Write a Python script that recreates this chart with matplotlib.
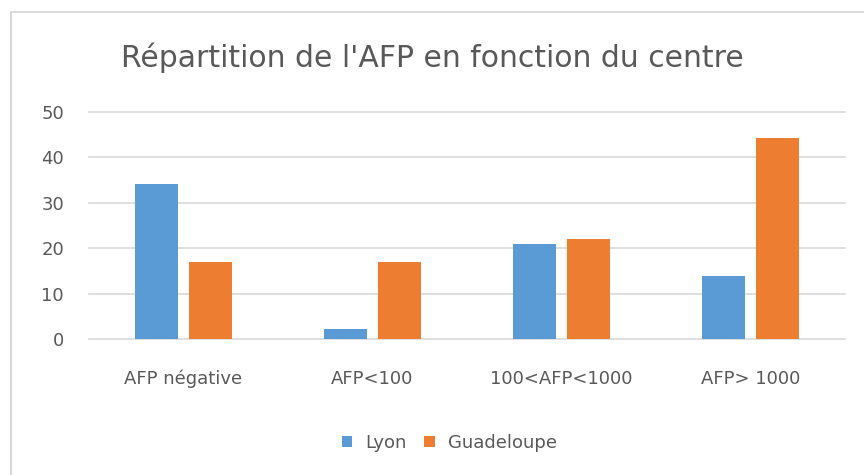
import numpy as np
import matplotlib
matplotlib.use('Agg')
import matplotlib.pyplot as plt
from matplotlib.lines import Line2D

plt.rcParams['font.family'] = ['DejaVu Sans']

categories = ['AFP négative', 'AFP<100', '100<AFP<1000', 'AFP> 1000']
lyon = [34, 2.3, 20.8, 13.8]
guadeloupe = [17, 17, 22, 44.2]
yticks = [0, 10, 20, 30, 40, 50]

txt = '#595959'
blue = '#5B9BD5'
orange = '#ED7D31'
grid = '#d9d9d9'

fig = plt.figure(figsize=(8.64, 4.75), dpi=100)
ax = fig.add_axes([0.103, 0.2863, 0.875, 0.4785])

# outer chart frame: only left and top edges show in the picture
fx, fy = 11/864, 1 - 12/475
fig.lines.append(Line2D([fx, fx, 1.0], [0.0, fy, fy], transform=fig.transFigure,
                        color=grid, linewidth=1.5))

x = np.arange(len(categories))
w = 0.225
ax.bar(x - 0.143, lyon, w, color=blue, label='Lyon', zorder=3)
ax.bar(x + 0.143, guadeloupe, w, color=orange, label='Guadeloupe', zorder=3)

ax.set_xlim(-0.5, 3.5)
ax.set_ylim(0, 50)
ax.set_yticks(yticks)
# gridlines drawn unclipped so the 0 and 50 lines are full width
for yv in yticks:
    ax.axhline(yv, color=grid, linewidth=1.2, clip_on=False, zorder=1)
for s in ax.spines.values():
    s.set_visible(False)
ax.tick_params(axis='both', length=0, colors=txt, labelsize=13)
ax.tick_params(axis='y', pad=18)
ax.tick_params(axis='x', pad=22)
ax.set_xticks(x)
ax.set_xticklabels(categories)

fig.text(0.5, 1 - 58/475, "Répartition de l'AFP en fonction du centre",
         ha='center', va='center', fontsize=21.5, color=txt)

leg = fig.legend(loc='center', bbox_to_anchor=(0.52, 1 - 443/475), ncol=2,
                 frameon=False, fontsize=13, handlelength=0.6, handleheight=0.6,
                 handletextpad=0.7, columnspacing=1.0, labelcolor=txt)

fig.savefig('out.png', dpi=100)
